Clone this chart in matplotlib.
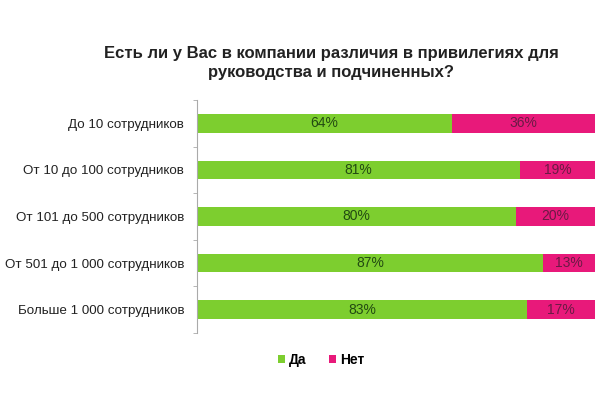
import matplotlib.pyplot as plt
import numpy as np

plt.rcParams['font.family'] = ['Liberation Sans', 'DejaVu Sans']

# данные
categories = ['До 10 сотрудников', 'От 10 до 100 сотрудников', 'От 101 до 500 сотрудников',
              'От 501 до 1 000 сотрудников', 'Больше 1 000 сотрудников']
da = [64, 81, 80, 87, 83]
net = [36, 19, 20, 13, 17]
series_names = ['Да', 'Нет']

green = '#7dce2f'
pink = '#e8197a'

fig = plt.figure(figsize=(6, 4), dpi=100)
ax = fig.add_axes([0.328, 0.1675, 0.664, 0.5825])

y = np.arange(len(categories))
b1 = ax.barh(y, da, height=0.4, color=green, label=series_names[0])
b2 = ax.barh(y, net, left=da, height=0.4, color=pink, label=series_names[1])

for i in range(len(categories)):
    ax.text(da[i] / 2, y[i], f'{da[i]}%', ha='center', va='center', fontsize=10, color='#224a12')
    ax.text(da[i] + net[i] / 2, y[i], f'{net[i]}%', ha='center', va='center', fontsize=10, color='#6b1a45')

ax.set_xlim(0, 100)
ax.set_ylim(len(categories) - 0.5, -0.5)
ax.set_xticks([])
ax.set_yticks(y)
ax.set_yticklabels(categories, fontsize=9.6, color='#222222')
ax.tick_params(axis='y', length=0, pad=9)
# засечки между категориями
ax.set_yticks(np.arange(-0.5, len(categories)), minor=True)
ax.tick_params(axis='y', which='minor', length=3, color='#aaaaaa', direction='out')
for s in ['top', 'right', 'bottom']:
    ax.spines[s].set_visible(False)
ax.spines['left'].set_color('#aaaaaa')

fig.text(0.552, 0.842, 'Есть ли у Вас в компании различия в привилегиях для\nруководства и подчиненных?',
         ha='center', va='center', fontsize=12, fontweight='bold', color='#222222', linespacing=1.3)

fig.legend(handles=[b1, b2], loc='center', bbox_to_anchor=(0.535, 0.1), ncol=2, frameon=False,
           prop={'size': 10, 'weight': 'bold'}, handlelength=0.5, handleheight=0.5,
           handletextpad=0.3, columnspacing=1.6)

fig.savefig('out.png', dpi=100)
